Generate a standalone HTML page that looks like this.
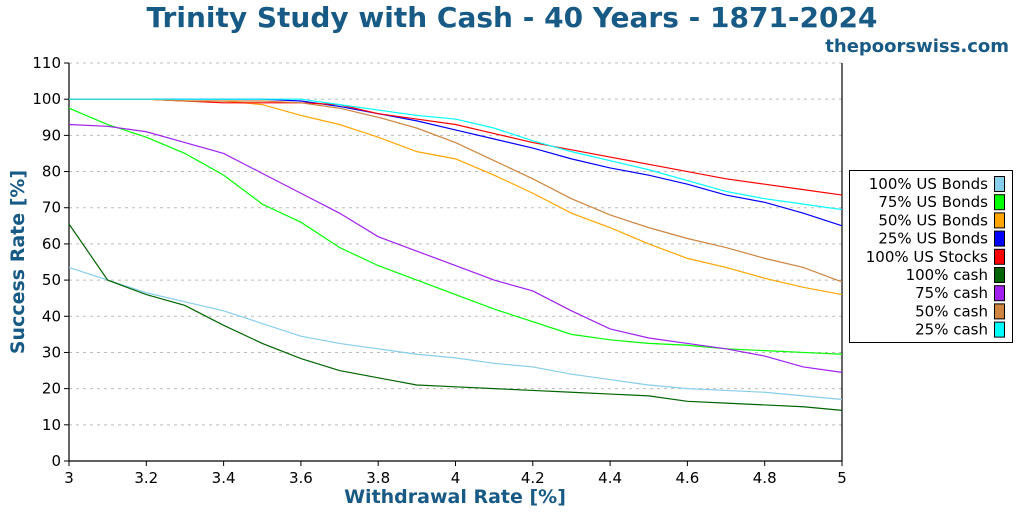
<!DOCTYPE html>
<html><head><meta charset="utf-8"><style>
body{margin:0;background:#fff;width:1024px;height:512px;overflow:hidden;font-family:"DejaVu Sans","Liberation Sans",sans-serif}
</style></head><body>
<svg id="chart" width="1024" height="512" xmlns="http://www.w3.org/2000/svg" font-family="DejaVu Sans, Liberation Sans, sans-serif">
<text x="512" y="27" text-anchor="middle" font-size="28" font-weight="bold" fill="#175a85">Trinity Study with Cash - 40 Years - 1871-2024</text>
<text x="1009" y="52" text-anchor="end" font-size="18" font-weight="bold" fill="#175a85">thepoorswiss.com</text>
<g id="grid"></g><g id="axes"></g><g id="series"></g><g id="legend"></g>
<text x="455" y="503" text-anchor="middle" font-size="19" font-weight="bold" fill="#175a85">Withdrawal Rate [%]</text>
<text transform="translate(24,262) rotate(-90)" text-anchor="middle" font-size="19" font-weight="bold" fill="#175a85">Success Rate [%]</text>
</svg>
<script>
const rates=[3,3.1,3.2,3.3,3.4,3.5,3.6,3.7,3.8,3.9,4,4.1,4.2,4.3,4.4,4.5,4.6,4.7,4.8,4.9,5];
const xTicks=[3,3.2,3.4,3.6,3.8,4,4.2,4.4,4.6,4.8,5];
const yTicks=[0,10,20,30,40,50,60,70,80,90,100,110];
const names=["100% US Bonds","75% US Bonds","50% US Bonds","25% US Bonds","100% US Stocks","100% cash","75% cash","50% cash","25% cash"];
const colors=["#87ceeb","#00ff00","#ffa500","#0000ff","#ff0000","#006400","#a020f0","#cd853f","#00ffff"];
const bonds100=[53.5,50,46.5,44,41.5,38,34.5,32.5,31,29.5,28.5,27,26,24,22.5,21,20,19.5,19,18,17];
const bonds75=[97.5,93,89.5,85,79,71,66,59,54,50,46,42,38.5,35,33.5,32.5,32,31,30.5,30,29.5];
const bonds50=[100,100,100,99.5,99.5,98.5,95.5,93,89.5,85.5,83.5,79,74,68.5,64.5,60,56,53.5,50.5,48,46];
const bonds25=[100,100,100,100,100,100,99.5,98,96,94,91.5,89,86.5,83.5,81,79,76.5,73.5,71.5,68.5,65];
const stocks100=[100,100,100,99.5,99,99,99,98.5,96,94.5,93,90.5,88,86,84,82,80,78,76.5,75,73.5];
const cash100=[65.5,50,46,43,37.5,32.5,28.3,25,23,21,20.5,20,19.5,19,18.5,18,16.5,16,15.5,15,14];
const cash75=[93,92.5,91,88,85,79.5,74,68.5,62,58,54,50,47,41.5,36.5,34,32.5,31,29,26,24.5];
const cash50=[100,100,100,99.5,99.5,99.5,99,97.5,95,92,88,83,78,72.5,68,64.5,61.5,59,56,53.5,49.5];
const cash25=[100,100,100,100,100,100,100,98.5,97,95.5,94.5,92,88.5,85.5,83,80.5,77.5,74.5,72.5,71,69.5];
const seriesData=[bonds100,bonds75,bonds50,bonds25,stocks100,cash100,cash75,cash50,cash25];
const X0=69,X1=842,Y0=461,Y1=63;
const xs=v=>X0+(v-3)/(5-3)*(X1-X0);
const ys=v=>Y0-v/110*(Y0-Y1);
const NS="http://www.w3.org/2000/svg";
function mk(tag,attrs,parent,text){const e=document.createElementNS(NS,tag);for(const k in attrs)e.setAttribute(k,attrs[k]);if(text!==undefined)e.textContent=text;parent.appendChild(e);return e;}
const grid=document.getElementById('grid'),axes=document.getElementById('axes'),ser=document.getElementById('series'),leg=document.getElementById('legend');
yTicks.forEach(t=>{const y=ys(t);
 if(t>0){const g=mk('line',{x1:X0,x2:X1,y1:y,y2:y,stroke:'#bbb','stroke-dasharray':'3,4'},grid);}
 const tk=mk('line',{x1:X0-5,x2:X0,y1:y,y2:y,stroke:'#000'},axes);
 const l=mk('text',{x:X0-8,y:y+5,'text-anchor':'end','font-size':15},axes,String(t));});
xTicks.forEach(t=>{const x=xs(t);
 const tk=mk('line',{x1:x,x2:x,y1:Y0,y2:Y0+5,stroke:'#000'},axes);
 const l=mk('text',{x:x,y:Y0+22,'text-anchor':'middle','font-size':15},axes,String(t));});
const ax=mk('path',{d:`M${X0},${Y1}V${Y0}H${X1}V${Y1}`,fill:'none',stroke:'#000','stroke-width':1.2},axes);

seriesData.forEach((d,i)=>{const p=mk('polyline',{points:d.map((v,j)=>xs(rates[j])+','+ys(v)).join(' '),fill:'none',stroke:colors[i],'stroke-width':1.2},ser);
 });
const box=mk('rect',{x:849.5,y:170.5,width:163,height:172,fill:'#fff',stroke:'#000'},leg);

names.forEach((n,i)=>{const y=184+i*18.2;
 const t=mk('text',{x:988,y:y+5,'text-anchor':'end','font-size':15},leg,n);
 const r=mk('rect',{x:994.5,y:y-7.5,width:10,height:15,fill:colors[i],stroke:'#000'},leg);});
</script>
</body></html>
